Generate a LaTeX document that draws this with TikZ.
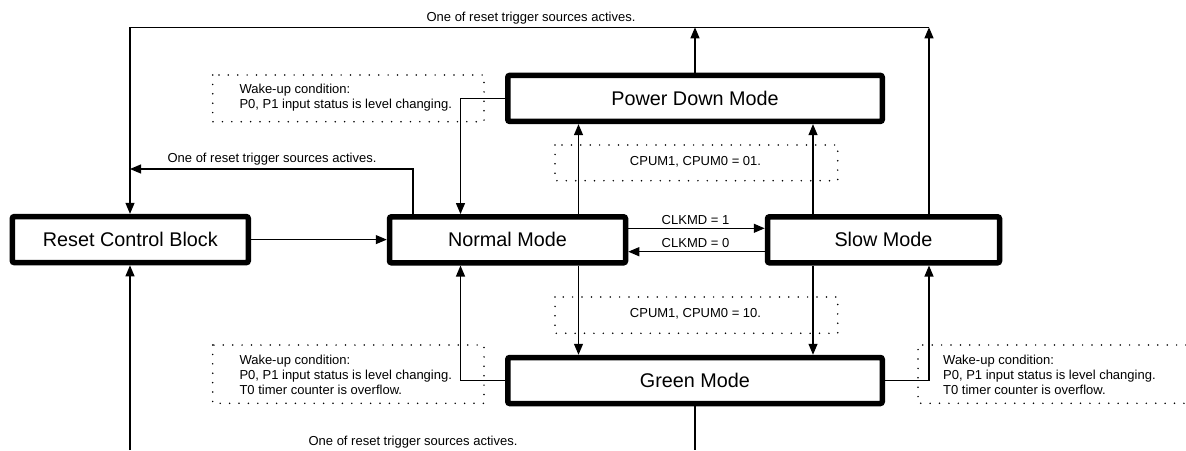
\documentclass[tikz,border=0pt]{standalone}
\usepackage{fontspec}
\setmainfont{Liberation Sans}
\usetikzlibrary{arrows.meta}
\begin{document}
\begin{tikzpicture}[x=1pt,y=-1pt,
  modebox/.style={draw, line width=5.5pt, rounded corners=2pt, inner sep=0pt,
    minimum width=236pt, minimum height=46pt, font=\fontsize{19.8}{22}\selectfont},
  widebox/.style={modebox, minimum width=374.5pt},
  wire/.style={line width=1.2pt},
  arr/.style={wire, -{Triangle[length=11pt,width=9pt]}},
  dotbox/.style={line width=1.7pt, line cap=round, dash pattern=on 0pt off 9.4pt},
  lbl/.style={inner sep=0pt, font=\fontsize{13}{15}\selectfont},
  note/.style={lbl, align=left, anchor=west}]
\useasboundingbox (0,0) rectangle (1186,450);

% dotted note frames
\draw[dotbox] (212.7,75) rectangle (484,121.7);
\draw[dotbox] (555,145) rectangle (837.7,180.7);
\draw[dotbox] (555,297) rectangle (837.7,333.3);
\draw[dotbox] (212.7,345) rectangle (484,403.3);
\draw[dotbox] (1186,345) -- (918,345) -- (918,403.3) -- (1186,403.3);

% mode boxes
\node[modebox] (reset) at (130.3,239.6) {Reset Control Block};
\node[modebox] (normal) at (507.5,239.8) {Normal Mode};
\node[modebox, minimum width=232pt] (slow) at (883.5,239.8) {Slow Mode};
\node[widebox] (pd) at (695,98.4) {Power Down Mode};
\node[widebox] (green) at (695,380.5) {Green Mode};

% reference coordinates
\coordinate (xR) at (130,0);
\coordinate (xW) at (413,0);
\coordinate (xWk) at (460.5,0);
\coordinate (xL) at (578.5,0);
\coordinate (xC) at (695,0);
\coordinate (xS) at (813,0);
\coordinate (xRt) at (929,0);
\coordinate (yTop) at (0,27.3);
\coordinate (yMid) at (0,169);
\coordinate (yCKa) at (0,228.3);
\coordinate (yCKb) at (0,251.7);
\coordinate (yBot) at (0,450);

% connectors
\draw[arr] (slow.north -| xRt) -- (xRt |- yTop);
\draw[arr] (pd.north) -- (xC |- yTop);
\draw[arr] (xRt |- yTop) -- (xR |- yTop) -- (xR |- reset.north);
\draw[arr] (reset.east) -- (reset.east -| normal.west);
\draw[arr] (normal.north -| xW) -- (xW |- yMid) -- (xR |- yMid);
\draw[arr] (pd.west) -- (pd.west -| xWk) -- (normal.north -| xWk);
\draw[arr] (normal.north -| xL) -- (pd.south -| xL);
\draw[arr] (slow.north -| xS) -- (pd.south -| xS);
\draw[arr] (normal.east |- yCKa) -- (slow.west |- yCKa);
\draw[arr] (slow.west |- yCKb) -- (normal.east |- yCKb);
\draw[arr] (normal.south -| xL) -- (green.north -| xL);
\draw[arr] (slow.south -| xS) -- (green.north -| xS);
\draw[arr] (green.west) -- (green.west -| xWk) -- (normal.south -| xWk);
\draw[arr] (green.east) -- (green.east -| xRt) -- (slow.south -| xRt);
\draw[wire] (green.south) -- (xC |- yBot);
\coordinate (rb) at (130,450);
\draw[arr] (rb) -- (xR |- reset.south);

% labels
\node[lbl] (t1) at (531,18.3) {One of reset trigger sources actives.};
\node[lbl] (t2) at (272,159) {One of reset trigger sources actives.};
\node[lbl] (t3) at (413,442.5) {One of reset trigger sources actives.};
\node[lbl] (ck1) at (695.5,220) {CLKMD = 1};
\node[lbl] (ck0) at (695.5,242.7) {CLKMD = 0};
\node[lbl] (cp1) at (695.5,161.7) {CPUM1, CPUM0 = 01.};
\node[lbl] (cp2) at (695.5,313.3) {CPUM1, CPUM0 = 10.};
\node[note] (n1) at (239.3,97.5) {Wake-up condition:\\P0, P1 input status is level changing.};
\node[note] (n2) at (239.3,375) {Wake-up condition:\\P0, P1 input status is level changing.\\T0 timer counter is overflow.};
\node[note] (n3) at (943,375) {Wake-up condition:\\P0, P1 input status is level changing.\\T0 timer counter is overflow.};
\end{tikzpicture}
\end{document}
